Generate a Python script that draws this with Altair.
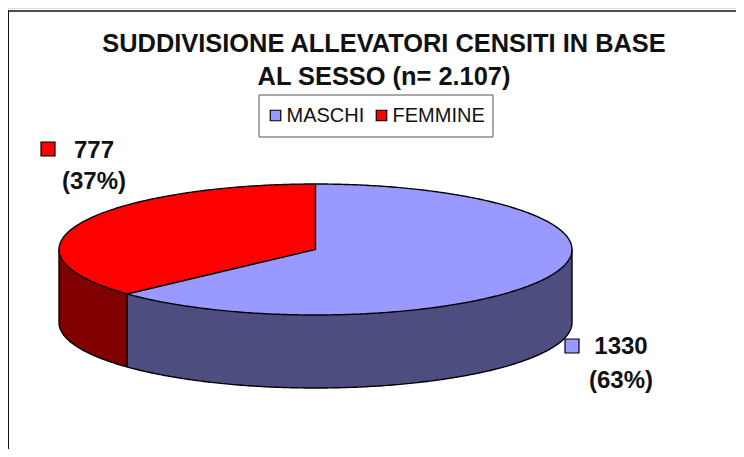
import math
import altair as alt
import pandas as pd

categories = ["MASCHI", "FEMMINE"]
values = [1330, 777]
pct_labels = ["(63%)", "(37%)"]
title_lines = ["SUDDIVISIONE ALLEVATORI CENSITI IN BASE", "AL SESSO (n= 2.107)"]
top_colors = ["#9999FF", "#FF0000"]
side_colors = ["#4D4D80", "#800000"]

W, H = 728, 441
CX, CY, RX, RY, DEPTH = 315.5, 249.5, 256.5, 65.5, 73
FONT = "Liberation Sans"

share = values[1] / sum(values)
sep = 2 * math.pi * share  # red slice runs anticlockwise from 12 o'clock
sep_x = CX - RX * math.sin(sep)
sep_y = CY - RY * math.cos(sep)


def lower(x):
    u = max(-1.0, min(1.0, (x - CX) / RX))
    return CY + RY * math.sqrt(1 - u * u)


def upper(x):
    u = max(-1.0, min(1.0, (x - CX) / RX))
    return CY - RY * math.sqrt(1 - u * u)


def xs(a, b, n=160):
    # cosine spacing, so the steep ends of the ellipse stay smooth
    return sorted({a + (b - a) * (1 - math.cos(math.pi * i / n)) / 2 for i in range(n + 1)})


X_L, X_R = CX - RX, CX + RX
xscale = alt.Scale(domain=[8, 8 + W], range=[0, W])
yscale = alt.Scale(domain=[8, 8 + H], range=[0, H])
X = alt.X("x:Q", scale=xscale, axis=None)
Y = alt.Y("y:Q", scale=yscale, axis=None)
Y2 = alt.Y2("y2:Q")

# side walls
side_red = pd.DataFrame([{"x": x, "y": lower(x), "y2": lower(x) + DEPTH} for x in xs(X_L, sep_x, 80)])
side_blue = pd.DataFrame([{"x": x, "y": lower(x), "y2": lower(x) + DEPTH} for x in xs(sep_x, X_R)])

# top faces
top_rows = [{"x": x, "y": upper(x), "y2": lower(x), "cat": categories[0]} for x in xs(X_L, X_R, 300)]
red_rows = []
for x in sorted(set(xs(X_L, sep_x, 80) + xs(sep_x, CX, 40))):
    if x <= sep_x:
        bottom = lower(x)
    else:
        bottom = sep_y + (CY - sep_y) * (x - sep_x) / (CX - sep_x)
    red_rows.append({"x": x, "y": upper(x), "y2": bottom, "cat": categories[1]})
top_df = pd.DataFrame(top_rows)
red_df = pd.DataFrame(red_rows)

color = alt.Color(
    "cat:N",
    scale=alt.Scale(domain=categories, range=top_colors),
    legend=alt.Legend(
        orient="none", legendX=250.5, legendY=86.5, direction="horizontal", title=None,
        symbolType="square", symbolSize=110, symbolStrokeColor="black", symbolStrokeWidth=1.2,
        symbolOpacity=1, labelFont=FONT, labelFontSize=20, labelColor="#111", labelOpacity=1,
        strokeColor="#555", fillColor="white", padding=7, columnPadding=7,
        labelLimit=200, labelOffset=1, clipHeight=28,
    ),
)

layers = []
layers.append(alt.Chart(side_blue).mark_area(color=side_colors[0]).encode(x=X, y=Y, y2=Y2))
layers.append(alt.Chart(side_red).mark_area(color=side_colors[1]).encode(x=X, y=Y, y2=Y2))
layers.append(alt.Chart(pd.concat([top_df, red_df])).mark_area(opacity=1).encode(
    x=X, y=Y, y2=Y2, color=color, order=alt.Order("o:Q"), detail="cat:N"
).transform_calculate(o="datum.cat == 'MASCHI' ? 0 : 1"))

# outlines
path = []
pid = 0


def add_path(pts):
    global pid
    for i, (x, y) in enumerate(pts):
        path.append({"x": x, "y": y, "p": pid, "i": i})
    pid += 1


ell = xs(X_L, X_R, 300)
add_path([(x, upper(x)) for x in ell] + [(x, lower(x)) for x in reversed(ell)])
add_path([(x, lower(x) + DEPTH) for x in ell])
add_path([(X_L, CY), (X_L, CY + DEPTH)])
add_path([(X_R, CY), (X_R, CY + DEPTH)])
add_path([(sep_x, sep_y), (sep_x, sep_y + DEPTH)])
add_path([(CX, CY - RY), (CX, CY), (sep_x, sep_y)])
layers.append(alt.Chart(pd.DataFrame(path)).mark_line(color="black", strokeWidth=1.4).encode(
    x=X, y=Y, detail="p:N", order="i:Q"))

# frame
layers.append(alt.Chart(pd.DataFrame({"a": [0]})).mark_rule(color="#111", strokeWidth=2).encode(
    x=alt.value(0), y=alt.value(3), y2=alt.value(H)))
layers.append(alt.Chart(pd.DataFrame({"a": [0]})).mark_rule(color="#111", strokeWidth=1.6).encode(
    x=alt.value(0), x2=alt.value(W), y=alt.value(3)))

# data labels
lab = pd.DataFrame({
    "value": [str(v) for v in values],
    "pct": pct_labels,
    "cat": categories,
    "sx": [572 - 8, 48 - 8],
    "sy": [346 - 8, 149 - 8],
    "tx": [621 - 8, 94 - 8],
    "ty1": [347 - 8, 151 - 8],
    "ty2": [381 - 8, 182 - 8],
})
layers.append(alt.Chart(lab).mark_square(size=196, stroke="black", strokeWidth=1.2, opacity=1).encode(
    x=alt.X("sx:Q", scale=None), y=alt.Y("sy:Q", scale=None),
    fill=alt.Fill("cat:N", scale=alt.Scale(domain=categories, range=top_colors), legend=None)))
txt = dict(font=FONT, fontWeight="bold", fontSize=24, color="#111", align="center", baseline="middle")
layers.append(alt.Chart(lab).mark_text(**txt).encode(
    x=alt.X("tx:Q", scale=None), y=alt.Y("ty1:Q", scale=None), text="value:N"))
layers.append(alt.Chart(lab).mark_text(**txt).encode(
    x=alt.X("tx:Q", scale=None), y=alt.Y("ty2:Q", scale=None), text="pct:N"))

chart = (
    alt.layer(*layers)
    .resolve_scale(x="independent", y="independent", fill="independent", color="independent")
    .properties(
        width=W, height=H, padding=0, autosize=alt.AutoSizeParams(type="none"),
        title=alt.TitleParams(
            text=title_lines, font=FONT, fontSize=25.4, fontWeight="bold", color="#111",
            anchor="middle", baseline="top", offset=0, dx=12, dy=82, lineHeight=33,
        ),
    )
    .configure_view(stroke=None)
    .configure(background="white")
)

chart.save("out.html", embed_options={"renderer": "svg", "actions": False})
